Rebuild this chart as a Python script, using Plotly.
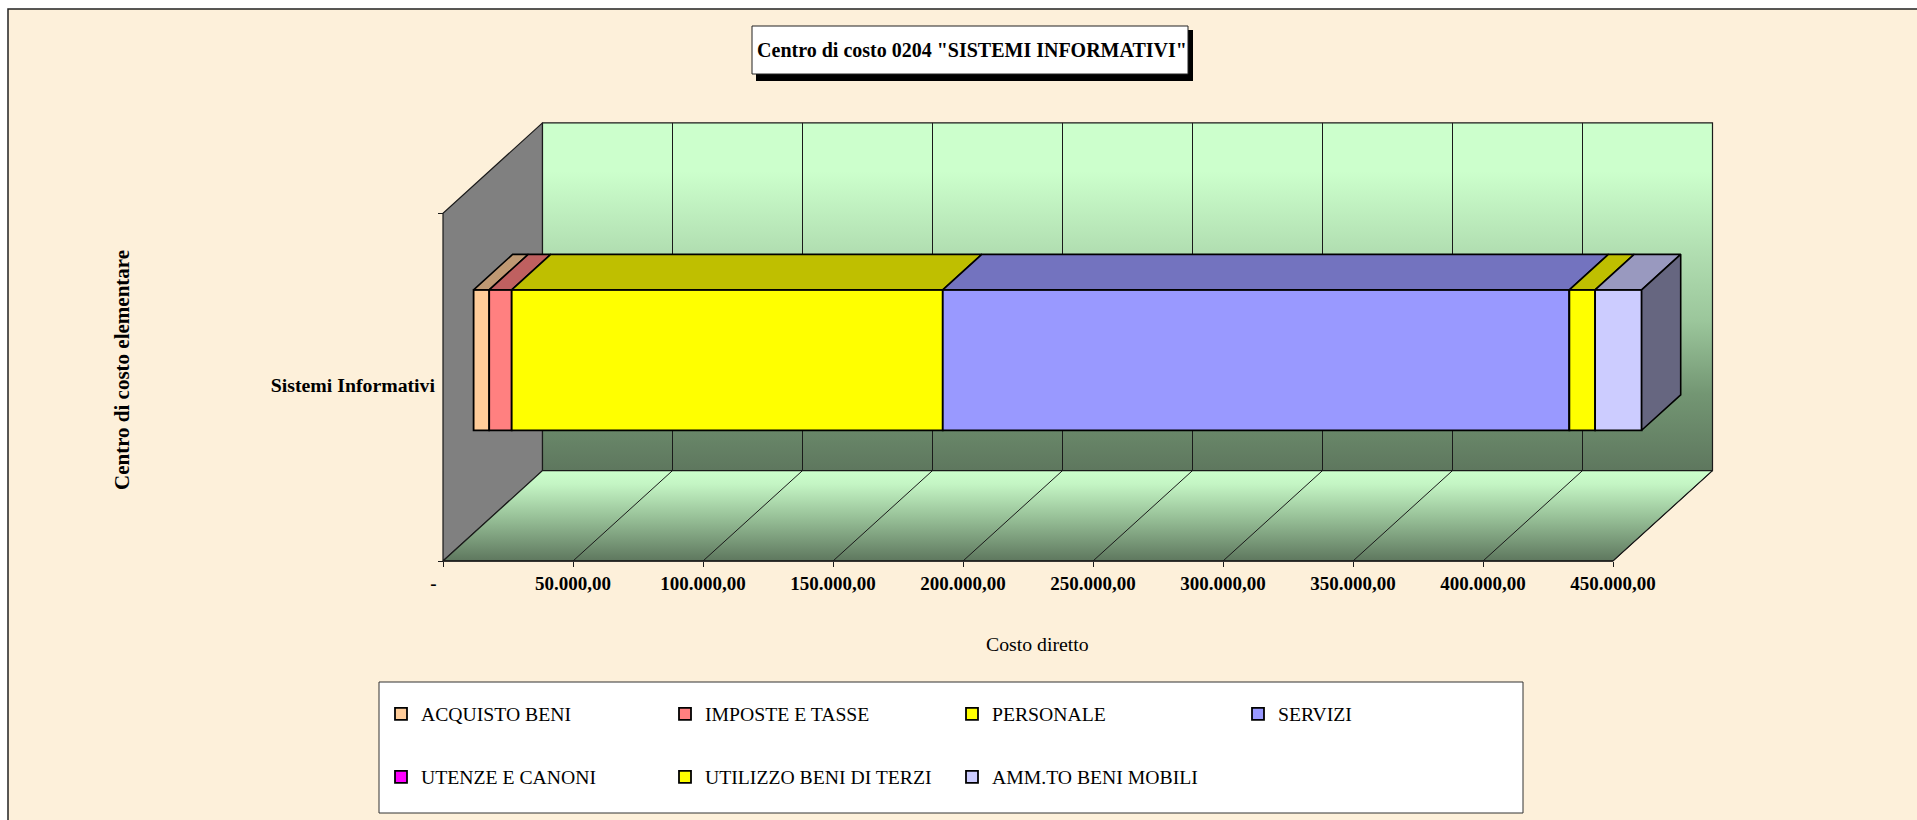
import plotly.graph_objects as go

# ---- data ----
CATEGORY = "Sistemi Informativi"
SERIES = ["ACQUISTO BENI", "IMPOSTE E TASSE", "PERSONALE", "SERVIZI",
          "UTENZE E CANONI", "UTILIZZO BENI DI TERZI", "AMM.TO BENI MOBILI"]
VALUES = [6000, 8650, 165800, 241000, 0, 9900, 17900]
FRONT_COLORS = ["#FFCC99", "#FF8080", "#FFFF00", "#9999FF", "#FF00FF", "#FFFF00", "#CCCCFF"]
TOP_COLORS = ["#BF9973", "#BF6060", "#BFBF00", "#7373BF", "#BF00BF", "#BFBF00", "#9999BF"]
SIDE_COLOR = "#666680"
TICK_VALUES = [0, 50000, 100000, 150000, 200000, 250000, 300000, 350000, 400000, 450000]
TICK_LABELS = ["-\u00a0\u00a0\u00a0\u00a0", "50.000,00", "100.000,00", "150.000,00", "200.000,00",
               "250.000,00", "300.000,00", "350.000,00", "400.000,00", "450.000,00"]
TITLE = 'Centro di costo 0204 "SISTEMI INFORMATIVI"'
X_TITLE = "Costo diretto"
Y_TITLE = "Centro di costo elementare"

# ---- canvas and oblique-projection geometry (pixels) ----
W, H = 1917, 820
X0_PX, Y0_PX = 443.0, 561.0      # front-bottom-left corner of the plot box
PX_PER_UNIT = 130.0 / 50000.0    # horizontal scale
CAT_PX = 347.7                   # height of the category axis
DEPTH_X_PX, DEPTH_Y_PX = 99.5, 90.4

DEPTH_X = DEPTH_X_PX / PX_PER_UNIT
DEPTH_Y = DEPTH_Y_PX / CAT_PX
X_RANGE = [(0 - X0_PX) / PX_PER_UNIT, (W - X0_PX) / PX_PER_UNIT]
Y_RANGE = [(Y0_PX - H) / CAT_PX, Y0_PX / CAT_PX]
XMAX = TICK_VALUES[-1]

BAR_LOW, BAR_HIGH = 0.296, 0.700
BAR_T0, BAR_T1 = 0.3075, 0.700


def proj(v, c, t):
    """Value, category position and depth (0 front .. 1 back) to axis coordinates."""
    return v + t * DEPTH_X, c + t * DEPTH_Y


def poly(points):
    xs, ys = zip(*[proj(*p) for p in points])
    return list(xs) + [xs[0]], list(ys) + [ys[0]]


def px(x):
    return x / W


def py(y):
    return 1 - y / H


GREEN_SCALE = [[0.0, "#5E775E"], [0.22, "#739673"], [0.43, "#9BC69B"],
               [0.62, "#B0DDB0"], [0.86, "#CCFFCC"], [1.0, "#CCFFCC"]]
FLOOR_SCALE = [[0.0, "#5E775E"], [0.45, "#94BC94"], [0.85, "#C4F5C4"], [1.0, "#CCFFCC"]]
LINE = "#1A1A1A"

fig = go.Figure()


def add_face(points, fill=None, gradient=None, line_w=1.2, axes=("x", "y"), line_color=LINE):
    xs, ys = poly(points)
    kw = dict(fillgradient=gradient) if gradient else dict(fillcolor=fill)
    fig.add_trace(go.Scatter(x=xs, y=ys, mode="lines", fill="toself", showlegend=False,
                             hoverinfo="skip", line=dict(color=line_color, width=line_w),
                             xaxis=axes[0], yaxis=axes[1], **kw))


def add_line(points, width=1.0):
    xs, ys = zip(*[proj(*p) for p in points])
    fig.add_trace(go.Scatter(x=list(xs), y=list(ys), mode="lines", showlegend=False,
                             hoverinfo="skip", line=dict(color=LINE, width=width)))


# walls and floor
add_face([(0, 0, 0), (0, 1, 0), (0, 1, 1), (0, 0, 1)], fill="#808080")
add_face([(0, 0, 1), (XMAX, 0, 1), (XMAX, 1, 1), (0, 1, 1)],
         gradient=dict(type="vertical", colorscale=GREEN_SCALE))
add_face([(0, 0, 0), (XMAX, 0, 0), (XMAX, 0, 1), (0, 0, 1)],
         gradient=dict(type="vertical", colorscale=FLOOR_SCALE))
for tv in TICK_VALUES[1:-1]:
    add_line([(tv, 1, 1), (tv, 0, 1), (tv, 0, 0)])
add_line([(XMAX, 0, 1), (XMAX, 0, 0)])
add_line([(0, 0, 0), (XMAX, 0, 0)], width=1.6)

# stacked bar: front faces are real bars, on an overlaying axis pair so that they sit above the walls
start = 0
starts = []
for i, (name, val, col) in enumerate(zip(SERIES, VALUES, FRONT_COLORS)):
    starts.append(start)
    bx, by = proj(start, (BAR_LOW + BAR_HIGH) / 2, BAR_T0)
    fig.add_trace(go.Bar(x=[val], base=[bx], y=[by], width=[BAR_HIGH - BAR_LOW], orientation="h",
                         name=name, marker=dict(color=col, line=dict(color="#000000", width=1.8)),
                         xaxis="x2", yaxis="y2", legend="legend" if i == 0 else f"legend{i + 1}",
                         customdata=[CATEGORY], hovertemplate="%{customdata}<br>" + name + ": " + f"{val:,}<extra></extra>"))
    start += val
total = start

for s, val, col in zip(starts, VALUES, TOP_COLORS):
    if val > 0:
        add_face([(s, BAR_HIGH, BAR_T0), (s + val, BAR_HIGH, BAR_T0),
                  (s + val, BAR_HIGH, BAR_T1), (s, BAR_HIGH, BAR_T1)],
                 fill=col, line_w=1.6, axes=("x2", "y2"), line_color="#000000")
add_face([(total, BAR_LOW, BAR_T0), (total, BAR_HIGH, BAR_T0),
          (total, BAR_HIGH, BAR_T1), (total, BAR_LOW, BAR_T1)],
         fill=SIDE_COLOR, line_w=1.6, axes=("x2", "y2"), line_color="#000000")

# legend boxes: one per entry, so that the uneven columns and wide row gap can be kept
LEGEND_POS = [(381, 714), (665, 714), (952, 714), (1238, 714),
              (381, 777), (665, 777), (952, 777)]
legends = {}
for i, (lx, ly) in enumerate(LEGEND_POS):
    key = "legend" if i == 0 else f"legend{i + 1}"
    legends[key] = dict(x=px(lx), y=py(ly), xanchor="left", yanchor="middle",
                        bgcolor="rgba(0,0,0,0)", borderwidth=0,
                        font=dict(family="Liberation Serif", size=19.7, color="#000000"))

PARCHMENT = "#FDF0DA"
shapes = [
    dict(type="rect", xref="paper", yref="paper", x0=px(8), x1=1.02, y0=-0.02, y1=py(9),
         fillcolor=PARCHMENT, line=dict(color="#222222", width=1.5), layer="below"),
    dict(type="rect", xref="paper", yref="paper", x0=px(756), x1=px(1193), y0=py(81), y1=py(30),
         fillcolor="#000000", line=dict(width=0), layer="below"),
    dict(type="rect", xref="paper", yref="paper", x0=px(752), x1=px(1188), y0=py(74), y1=py(26),
         fillcolor="#FFFFFF", line=dict(color="#222222", width=1), layer="below"),
    dict(type="rect", xref="paper", yref="paper", x0=px(379), x1=px(1523), y0=py(813), y1=py(682),
         fillcolor="#FFFFFF", line=dict(color="#333333", width=1), layer="below"),
]

annotations = [
    dict(text=X_TITLE, xref="paper", yref="paper", x=px(1037), y=py(644), showarrow=False,
         xanchor="center", yanchor="middle",
         font=dict(family="Liberation Serif", size=19.8, color="#000000")),
    dict(text=f"<b>{Y_TITLE}</b>", xref="paper", yref="paper", x=px(122), y=py(370), showarrow=False,
         textangle=-90, xanchor="center", yanchor="middle",
         font=dict(family="Liberation Serif", size=21, color="#000000")),
]

x_font = dict(family="Liberation Serif", size=19, color="#000000", weight="bold")
y_font = dict(family="Liberation Serif", size=19.8, color="#000000", weight="bold")
fig.update_layout(
    width=W, height=H, margin=dict(l=0, r=0, t=0, b=0), autosize=False,
    paper_bgcolor="#FFFFFF", plot_bgcolor="rgba(0,0,0,0)",
    barmode="overlay", showlegend=True,
    title=dict(text=f"<b>{TITLE}</b>", x=px(972), y=py(50), xanchor="center", yanchor="middle",
               xref="paper", yref="paper",
               font=dict(family="Liberation Serif", size=20, color="#000000")),
    shapes=shapes, annotations=annotations,
    xaxis=dict(domain=[0, 1], range=X_RANGE, anchor="free", position=py(Y0_PX), showgrid=False,
               zeroline=False, showline=False, tickmode="array", tickvals=TICK_VALUES,
               ticktext=TICK_LABELS, ticks="outside", ticklen=5, tickcolor=LINE, tickwidth=1,
               tickfont=x_font, tickangle=0),
    yaxis=dict(domain=[0, 1], range=Y_RANGE, anchor="free", position=px(X0_PX), showgrid=False,
               zeroline=False, showline=False, tickmode="array", tickvals=[0.507],
               ticktext=[CATEGORY], ticks="", tickfont=y_font, ticklabelstandoff=8,
               minor=dict(tickmode="array", tickvals=[0, 1], ticks="outside", ticklen=5,
                          tickcolor=LINE, tickwidth=1, showgrid=False)),
    xaxis2=dict(domain=[0, 1], range=X_RANGE, overlaying="x", anchor="y2", visible=False),
    yaxis2=dict(domain=[0, 1], range=Y_RANGE, overlaying="y", anchor="x2", visible=False),
    **legends,
)

fig.write_html("out.html", config=dict(displayModeBar=False),
               post_script="document.body.style.margin='0';document.body.style.overflow='hidden';")
